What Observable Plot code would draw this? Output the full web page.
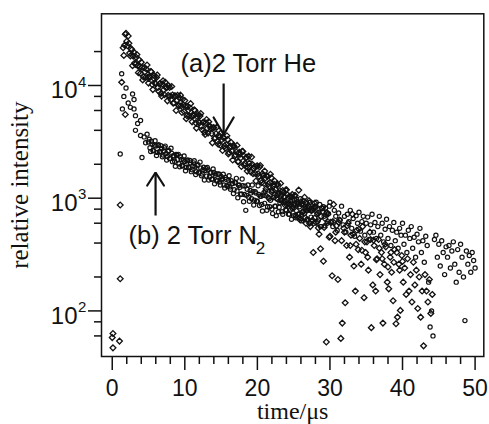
<!DOCTYPE html>
<html><head><meta charset="utf-8">
<script src="https://cdn.jsdelivr.net/npm/d3@7"></script>
<script src="https://cdn.jsdelivr.net/npm/@observablehq/plot@0.6"></script>
<style>body{margin:0;background:#fff}#chart svg{display:block}</style>
</head><body><div id="chart"></div>
<script>
// (a) 2 Torr He — diamonds
const aTime=[0,0.1,0.1,1.0,1.1,1.1,1.3,1.8,
1.5,1.7,1.9,2.1,2.3,2.5,2.7,2.9,3.1,3.3,3.5,3.7,3.9,4.1,4.3,4.5,4.7,4.9,5.1,5.3,
5.5,5.7,5.9,6.1,6.3,6.5,6.7,6.9,7.1,7.3,7.5,7.7,7.9,8.1,8.3,8.5,8.7,8.9,9.1,9.3,
9.5,9.7,9.9,10.1,10.3,10.5,10.7,10.9,11.1,11.3,11.5,11.7,11.9,12.1,12.3,12.5,12.7,12.9,13.1,13.3,
13.5,13.7,13.9,14.1,14.3,14.5,14.7,14.9,15.1,15.3,15.5,15.7,15.9,16.1,16.3,16.5,16.7,16.9,17.1,17.3,
17.5,17.7,17.9,18.1,18.3,18.5,18.7,18.9,19.1,19.3,19.5,19.7,19.9,20.1,20.3,20.5,20.7,20.9,21.1,21.3,
21.5,21.7,21.9,22.1,22.3,22.5,22.7,22.9,23.1,23.3,23.5,23.7,23.9,24.1,24.3,24.5,24.7,24.9,
25.1,25.3,25.5,25.7,25.9,26.1,26.3,26.5,26.7,26.9,27.1,27.3,27.5,27.7,27.9,28.1,28.3,28.5,28.7,28.9,
29.1,29.3,29.5,29.7,29.9,30.1,30.3,30.5,30.7,30.9,31.1,31.3,31.5,31.7,31.9,32.1,32.3,32.5,32.7,32.9,
33.1,33.3,33.5,33.7,33.9,34.1,34.3,34.5,34.7,34.9,35.1,35.3,35.5,35.7,35.9,36.1,36.3,36.5,36.7,36.9,
37.1,37.3,37.5,37.7,37.9,38.1,38.3,38.5,38.7,38.9,39.1,39.3,39.5,39.7,39.9,40.1,40.3,40.5,40.7,40.9,
41.1,41.3,41.5,41.7,41.9,42.1,42.3,42.5,42.7,42.9,43.1,43.3,43.5,43.7,43.9,44.1,
1.6,1.8,2.0,2.2,2.4,2.6,2.8,3.0,3.2,3.4,3.6,3.8,4.0,4.2,4.4,4.6,4.8,5.0,5.2,5.4,
5.6,5.8,6.0,6.2,6.4,6.6,6.8,7.0,7.2,7.4,7.6,7.8,8.0,8.2,8.4,8.6,8.8,9.0,9.2,9.4,
9.6,9.8,10.0,10.2,10.4,10.6,10.8,11.0,11.2,11.4,11.6,11.8,12.0,12.2,12.4,12.6,12.8,13.0,13.2,13.4,
13.6,13.8,14.0,14.2,14.4,14.6,14.8,15.0,15.2,15.4,15.6,15.8,16.0,16.2,16.4,16.6,16.8,17.0,17.2,17.4,
17.6,17.8,18.0,18.2,18.4,18.6,18.8,19.0,19.2,19.4,19.6,19.8,20.0,20.2,20.4,20.6,20.8,21.0,21.2,21.4,
21.6,21.8,22.0,22.2,22.4,22.6,22.8,23.0,23.2,23.4,23.6,23.8,24.0,24.2,24.4,24.6,24.8,25.0,25.2,25.4,
25.6,25.8,26.0,26.2,26.4,26.6,26.8,27.0,27.2,27.4,27.6,27.8,
28.0,28.4,28.8,29.2,29.6,30.0,30.4,30.8,31.2,31.6,32.0,32.4,32.8,33.2,33.6,34.0,34.4,34.8,35.2,35.6,
36.0,36.4,36.8,37.2,37.6,38.0,38.4,38.8,39.2,39.6,40.0];
const aValue=[58,63,47,54,193,870,10700,5530,
21600,22800,29000,22500,23700,18300,20700,18200,15800,17800,15000,16900,12800,14500,11900,13200,14000,11800,12000,13300,
10200,11600,10500,11800,9600,10300,8500,10300,9160,10700,9560,8170,9600,7460,8240,7020,8050,7400,6700,7700,
6600,7550,5870,6620,5390,6030,6340,5330,5460,6080,4660,5300,4770,5370,4340,4690,3850,4670,4170,4760,
4350,3740,4210,3390,3740,3190,3620,2960,3300,3480,2910,2990,3320,2550,2900,2610,2940,2370,2570,2110,
2560,2280,2610,2390,2040,2310,1860,2050,1710,2000,1840,1660,1920,1650,1890,1430,1650,1350,1510,1580,
1340,1370,1520,1170,1330,1190,1340,1090,1170,960,1170,1040,1180,870,1000,880,1030,830,
1050,700,920,1180,640,880,760,1020,600,830,950,560,780,330,900,610,740,480,356,820,
276,660,53,720,450,610,205,880,420,570,190,640,57,78,540,118,380,600,300,470,
720,250,150,520,350,440,260,560,131,330,410,230,500,71,170,380,150,290,430,210,
330,78,260,370,180,157,300,220,123,350,77,88,260,101,310,180,240,140,290,150,
210,120,270,170,230,105,200,88,150,49,210,150,120,190,95,140,
18500,28500,24700,27500,19400,21200,15000,19700,15400,18800,13000,14700,16100,11200,14400,11800,15200,10500,11800,13200,
9200,12200,10300,12400,8900,10400,8050,11000,8280,9580,7310,9950,8050,9800,6950,8090,6000,8180,6600,8210,
5760,6680,7360,5080,6530,5370,6900,4760,5400,5990,4190,5530,4660,5640,4050,4720,3670,4990,3780,4370,
4180,3100,4230,3420,4270,3010,3470,3800,2650,3400,2780,3580,2470,2800,3120,2180,2880,2420,2940,2110,
2450,1910,2600,1960,2270,1740,2360,1910,2320,1650,1910,1420,1940,1560,1950,1370,1580,1740,1210,1560,
1270,1630,1130,1280,1420,1000,1320,1110,1350,960,1120,870,1190,890,1040,790,1080,870,1060,770,
890,670,930,750,940,670,780,860,600,780,640,830,
830,545,690,550,740,460,620,500,610,420,500,570,380,480,390,530,345,410,300,430,
425,285,360,290,390,245,330,270,330,230,275];

// (b) 2 Torr N2 — circles
const bTime=[1.1,1.3,1.4,1.6,1.9,2.2,2.5,2.8,3.0,3.0,3.2,3.2,3.5,3.9,3.9,4.1,4.4,4.6,4.8,
5.0,5.2,5.4,5.6,5.8,6.0,6.2,6.4,6.6,6.8,7.0,7.2,7.4,7.6,7.8,8.0,8.2,8.4,8.6,8.8,
9.0,9.2,9.4,9.6,9.8,10.0,10.2,10.4,10.6,10.8,11.0,11.2,11.4,11.6,11.8,12.0,12.2,12.4,12.6,12.8,
13.0,13.2,13.4,13.6,13.8,14.0,14.2,14.4,14.6,14.8,15.0,15.2,15.4,15.6,15.8,16.0,16.2,16.4,16.6,16.8,
17.0,17.2,17.4,17.6,17.8,18.0,18.2,18.4,18.6,18.8,19.0,19.2,19.4,19.6,19.8,20.0,20.2,20.4,20.6,20.8,
21.0,21.2,21.4,21.6,21.8,22.0,22.2,22.4,22.6,22.8,23.0,23.2,23.4,23.6,23.8,24.0,24.2,24.4,24.6,24.8,
25.0,25.2,25.4,25.6,25.8,26.0,26.2,26.4,26.6,26.8,27.0,27.2,27.4,27.6,27.8,28.0,28.2,28.4,28.6,28.8,
29.0,29.2,29.4,29.6,29.8,30.0,30.2,30.4,30.6,30.8,31.0,31.2,31.4,31.6,31.8,32.0,32.2,32.4,32.6,32.8,
33.0,33.2,33.4,33.6,33.8,34.0,34.2,34.4,34.6,34.8,35.0,35.2,35.4,35.6,35.8,36.0,36.2,36.4,36.6,36.8,
37.0,37.2,37.4,37.6,37.8,38.0,38.2,38.4,38.6,38.8,39.0,39.2,39.4,39.6,39.8,40.0,40.2,40.4,40.6,40.8,
41.0,41.2,41.4,41.6,41.8,42.0,42.2,42.4,42.6,42.8,43.0,43.2,43.4,43.6,43.8,44.0,44.2,44.4,44.6,44.8,
45.0,45.2,45.4,45.6,45.8,46.0,46.2,46.4,46.6,46.8,47.0,47.2,47.4,47.6,47.8,48.0,48.2,48.4,48.6,48.8,
49.0,49.2,49.4,49.6,49.8,50.0,
5.1,5.3,5.5,5.7,5.9,6.1,6.3,6.5,6.7,6.9,7.1,7.3,7.5,7.7,7.9,8.1,8.3,8.5,8.7,8.9,
9.1,9.3,9.5,9.7,9.9,10.1,10.3,10.5,10.7,10.9,11.1,11.3,11.5,11.7,11.9,12.1,12.3,12.5,12.7,12.9,
13.1,13.3,13.5,13.7,13.9,14.1,14.3,14.5,14.7,14.9,15.1,15.3,15.5,15.7,15.9,16.1,16.3,16.5,16.7,16.9,
17.1,17.3,17.5,17.7,17.9,18.1,18.3,18.5,18.7,18.9,19.1,19.3,19.5,19.7,19.9,20.1,20.3,20.5,20.7,20.9,
21.1,21.3,21.5,21.7,21.9,22.1,22.3,22.5,22.7,22.9,23.1,23.3,23.5,23.7,23.9,24.1,24.3,24.5,24.7,24.9,
25.1,25.3,25.5,25.7,25.9,26.1,26.3,26.5,26.7,26.9,27.1,27.3,27.5,27.7,27.9,28.1,28.3,28.5,28.7,28.9,
29.1,29.3,29.5,29.7,29.9];
const bValue=[2470,12700,6200,8000,9500,7000,6400,8400,7500,6200,5400,4000,4600,4900,3600,2300,3500,3100,3700,
3150,2800,3200,2650,2950,2900,2550,2980,2600,2750,2420,2800,2480,2350,2650,2250,2500,2380,2130,2450,
2200,2020,2330,1950,2180,2120,1880,2190,1860,2050,1790,2060,1900,1720,1980,1700,1850,1640,1880,1760,
1570,1780,1540,1700,1480,1690,1600,1420,1630,1390,1560,1500,1310,1530,1300,1440,1260,1430,1350,1190,
1370,1160,1300,1250,1090,1290,1080,780,1200,1020,1170,990,1150,960,1110,940,1080,1040,880,1060,
900,1050,840,990,960,800,1010,850,700,980,830,950,760,920,1020,780,900,720,960,810,
700,890,980,720,840,660,900,770,850,640,820,920,680,780,600,850,720,640,880,560,
760,690,820,600,730,920,620,560,780,690,520,740,640,850,580,690,500,720,620,780,
540,660,460,700,600,750,510,620,690,470,600,680,430,580,720,500,610,440,560,690,
470,600,410,530,650,440,560,380,520,610,420,500,360,540,470,600,390,470,330,520,
440,560,360,450,300,480,410,540,330,420,270,460,380,180,72,100,60,430,470,300,
390,250,420,330,210,370,300,380,240,340,410,260,180,350,220,390,300,200,82,340,
260,310,220,330,280,240,
3340,2590,3020,2630,3240,2390,2930,2570,2930,2330,2610,2900,2180,2610,2250,2780,2110,2370,1920,2420,
2450,1900,2210,1930,2370,1750,2150,1890,2160,1720,1930,2150,1620,1950,1680,2090,1580,1790,1450,1840,
1870,1450,1680,1470,1820,1340,1650,1440,1640,1310,1460,1630,1230,1470,1270,1580,1200,1350,1100,1380,
1500,1010,1310,1080,1480,930,1280,1060,1310,940,1110,1310,870,1140,940,1290,860,1040,770,1120,
1160,780,1020,840,1160,730,1020,850,1060,760,910,1070,720,950,790,1080,720,880,650,950,
980,670,870,720,990,630,870,730,910,650,780,920,620,810,670,920,620,750,560,810,
840,570,750,620,850];

const xMajorTicks=[0,10,20,30,40,50];
const xMinorTicks=[2,4,6,8,12,14,16,18,22,24,26,28,32,34,36,38,42,44,46,48];
const yMajorTicks=[100,1000,10000];
const yTickBase=["10","10","10"];
const yTickExp=["2","3","4"];
const yMinorTicks=[60,80,200,400,600,800,2000,4000,6000,8000,20000];
const xTitle="time/μs";
const yTitle="relative intensity";
const labelA="(a)2 Torr He";
const labelB="(b) 2 Torr N";
const labelBSub="2";

const aData=aTime.map((t,i)=>({t,v:aValue[i]}));
const bData=bTime.map((t,i)=>({t,v:bValue[i]}));
const yTickRows=yMajorTicks.map((v,i)=>({v,base:yTickBase[i],exp:yTickExp[i]}));

// annotation geometry (data units)
const arrowShafts=[{x:15.35,y1:10410,y2:3670},{x:5.97,y1:702,y2:1690}];
const arrowHeads=[
  {id:"a",x:13.97,y:5200},{id:"a",x:15.35,y:3670},{id:"a",x:16.73,y:5200},
  {id:"b",x:4.82,y:1296},{id:"b",x:5.97,y:1690},{id:"b",x:7.12,y:1296}
];

const sans="Liberation Sans, Arial, Helvetica, sans-serif";
const serif="Liberation Serif, Times New Roman, serif";
const ink="#111";

const chart=Plot.plot({
  width:489,height:424,
  marginLeft:101,marginRight:5.7,marginTop:13.3,marginBottom:68,
  x:{domain:[-1.48,51.2]},
  y:{type:"log",domain:[39.4,43260]},
  style:{fontFamily:sans,background:"white",color:ink},
  marks:[
    Plot.axisY(yMinorTicks,{tickSize:7,tickFormat:()=>"",strokeWidth:1.5,label:null}),
    Plot.axisY(yMajorTicks,{tickSize:13,tickFormat:()=>"",strokeWidth:1.5,label:null}),
    Plot.text(yTickRows,{y:"v",text:"base",frameAnchor:"left",textAnchor:"end",dx:-24,dy:5.3,fontSize:24,fill:ink}),
    Plot.text(yTickRows,{y:"v",text:"exp",frameAnchor:"left",textAnchor:"start",dx:-23.5,dy:-3.8,fontSize:15,fill:ink}),
    Plot.axisX(xMinorTicks,{tickSize:8,tickFormat:()=>"",strokeWidth:1.5,label:null}),
    Plot.axisX(xMajorTicks,{tickSize:14,tickPadding:9,fontSize:23,tickFormat:d=>String(d),strokeWidth:1.5,label:null}),
    Plot.text([yTitle],{frameAnchor:"left",textAnchor:"middle",lineAnchor:"middle",rotate:-90,dx:-82,fontSize:25,fontFamily:serif,fill:ink}),
    Plot.text([xTitle],{frameAnchor:"bottom",textAnchor:"middle",lineAnchor:"middle",dy:55,fontSize:24,fontFamily:serif,fill:ink}),
    Plot.dot(aData,{x:"t",y:"v",symbol:"diamond2",r:2.6,stroke:ink,strokeWidth:1.3,fill:"none"}),
    Plot.dot(bData,{x:"t",y:"v",symbol:"circle",r:2.1,stroke:ink,strokeWidth:1.2,fill:"none"}),
    Plot.link(arrowShafts,{x1:"x",x2:"x",y1:"y1",y2:"y2",stroke:ink,strokeWidth:2.2}),
    Plot.line(arrowHeads,{x:"x",y:"y",z:"id",stroke:ink,strokeWidth:2.2,strokeLinejoin:"miter",curve:"linear"}),
    Plot.text([{x:9.42,y:15420,s:labelA}],{x:"x",y:"y",text:"s",textAnchor:"start",fontSize:25.5,fill:ink}),
    Plot.text([{x:2.25,y:466,s:labelB}],{x:"x",y:"y",text:"s",textAnchor:"start",fontSize:25.5,fill:ink}),
    Plot.text([{x:19.76,y:358,s:labelBSub}],{x:"x",y:"y",text:"s",textAnchor:"start",fontSize:17,fill:ink}),
    Plot.frame({stroke:ink,strokeWidth:1.5})
  ]
});
document.getElementById("chart").append(chart);
</script>
</body></html>
